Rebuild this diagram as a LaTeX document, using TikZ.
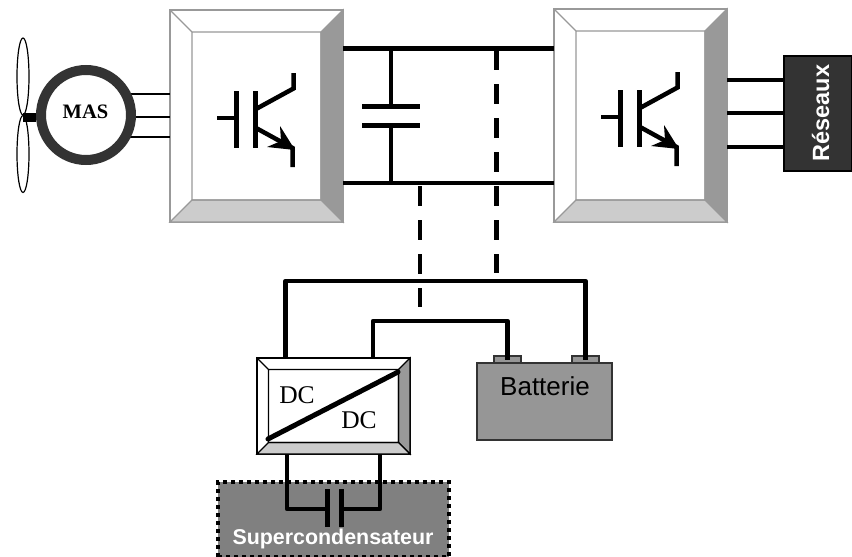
\documentclass[tikz,border=0pt]{standalone}
\usepackage{fontspec}
\setmainfont{Liberation Sans}
\newfontfamily\timesf{Liberation Serif}
\usetikzlibrary{shapes.geometric}
\definecolor{edgegray}{HTML}{999999}
\definecolor{lightface}{HTML}{CCCCCC}
\definecolor{darkface}{HTML}{333333}
\definecolor{midface}{HTML}{969696}
\definecolor{capface}{HTML}{808080}
\newcommand{\bevelbox}[7]{% name x1 y1 x2 y2 depth edgecolor
  \pgfmathsetmacro{\ixa}{#2+#6}\pgfmathsetmacro{\iya}{#3+#6}
  \pgfmathsetmacro{\ixb}{#4-#6}\pgfmathsetmacro{\iyb}{#5-#6}
  \pgfmathsetmacro{\bcx}{(#2+#4)/2}\pgfmathsetmacro{\bcy}{(#3+#5)/2}
  \pgfmathsetmacro{\bwid}{#4-#2}\pgfmathsetmacro{\bhei}{#5-#3}
  \node[rectangle,draw=#7,line width=1.2pt,fill=white,inner sep=0pt,outer sep=0pt,
        minimum width=\bwid pt,minimum height=\bhei pt] (#1) at (\bcx,\bcy) {};
  \filldraw[draw=#7,line width=1.2pt,fill=edgegray] (#4,#3)--(\ixb,\iya)--(\ixb,\iyb)--(#4,#5)--cycle;
  \filldraw[draw=#7,line width=1.2pt,fill=lightface] (#2,#5)--(\ixa,\iyb)--(\ixb,\iyb)--(#4,#5)--cycle;
  \draw[#7,line width=1.2pt] (#2,#3)--(\ixa,\iya) (\ixa,\iya) rectangle (\ixb,\iyb);
}
\newcommand{\igbt}{%
  \draw[igbtline] (217,118)--(236,118);
  \draw[igbtbar] (236,91)--(236,148);
  \draw[igbtbar] (255,91)--(255,148);
  \draw[igbtline,line join=miter] (256,109)--(293.5,88.5)--(293.5,73);
  \draw[igbtline,line join=miter] (256,128)--(292.5,148)--(292.5,167);
  \fill (280,126)--(295,150)--(267,147)--(281,141)--cycle;
}
\tikzset{
  x=1pt,y=-1pt,
  igbtline/.style={line width=4.5pt},
  igbtbar/.style={line width=5pt},
  buswire/.style={line width=4.5pt},
  thinwire/.style={line width=1.3pt},
  dcwire/.style={line width=4.5pt,line join=round},
  linkdash/.style={line width=4.5pt,dash pattern=on 20pt off 14pt},
  blade/.style={ellipse,draw,line width=1.2pt,fill=white,inner sep=0pt,outer sep=0pt,minimum width=12pt,minimum height=77pt},
  batbox/.style={draw=black!80,line width=1.2pt,fill=midface,rectangle,inner sep=0pt,outer sep=0pt},
}
\begin{document}
\begin{tikzpicture}
\useasboundingbox (0,0) rectangle (852,557);
% top converters
\bevelbox{convA}{170}{10}{343}{222}{22}{edgegray}
\bevelbox{convB}{554}{9}{727}{222}{22}{edgegray}
\igbt
\begin{scope}[shift={(384,-1)}]\igbt\end{scope}
% turbine and machine
\coordinate (mc) at (86,115);
\draw[thinwire] (mc|-0,94)--(convA.west|-0,94);
\draw[thinwire] (mc|-0,117)--(convA.west|-0,117);
\draw[thinwire] (mc|-0,137)--(convA.west|-0,137);
\node[blade] (bladeT) at (23,76.5) {};
\node[blade] (bladeB) at (23,154) {};
\node[circle,draw=darkface,line width=10pt,fill=white,inner sep=0pt,outer sep=0pt,minimum size=90pt] (motor) at (mc) {};
\node[font=\timesf\bfseries\fontsize{20.5}{24}\selectfont,inner sep=0pt] (mas) at (85.5,112) {MAS};
\fill (23,112.5) rectangle (36,121.5);
% DC bus
\coordinate (busT) at (0,48.5);
\coordinate (busB) at (0,183);
\draw[buswire] (convA.east|-busT)--(convB.west|-busT);
\draw[buswire] (convA.east|-busB)--(convB.west|-busB);
\coordinate (capT) at (391,106.5);
\coordinate (capB) at (391,125.5);
\draw[buswire] (capT|-busT)--(capT);
\draw[buswire] (capB)--(capB|-busB);
\draw[line width=4.5pt] (362,106.5)--(420,106.5);
\draw[line width=4.5pt] (362,125.5)--(420,125.5);
% reseau
\node[rectangle,draw=black,line width=1.2pt,fill=darkface,inner sep=0pt,outer sep=0pt,minimum width=68pt,minimum height=115pt] (res) at (818,113.5) {};
\node[rotate=90,text=white,font=\bfseries\fontsize{23.5}{28}\selectfont,inner sep=0pt] (restxt) at (820.5,113) {Réseaux};
\draw[buswire] (convB.east|-0,80)--(res.west|-0,80);
\draw[buswire] (convB.east|-0,113)--(res.west|-0,113);
\draw[buswire] (convB.east|-0,147)--(res.west|-0,147);
% DC-DC and battery
\node[batbox,minimum width=135pt,minimum height=77pt] (bat) at (544.5,401.5) {};
\node[font=\fontsize{26}{30}\selectfont,inner sep=0pt] (battxt) at (545,386) {Batterie};
\node[batbox,minimum width=27pt,minimum height=7pt] (tplus) at (507.5,359.5) {};
\node[batbox,minimum width=27pt,minimum height=7pt] (tminus) at (585.5,359.5) {};
\bevelbox{dcdc}{257}{358}{410}{454}{11.5}{black}
\draw[line width=5pt,line cap=round] (268,439)--(398,372);
\node[font=\timesf\fontsize{25.5}{30}\selectfont,inner sep=0pt] (dca) at (297,395) {DC};
\node[font=\timesf\fontsize{25.5}{30}\selectfont,inner sep=0pt] (dcb) at (359,420) {DC};
% links
\coordinate (topA) at (285.5,281);
\coordinate (topB) at (373,321);
\draw[dcwire] (topA|-dcdc.north)--(topA)--(tminus.center|-topA)--(tminus.center);
\draw[dcwire] (topB|-dcdc.north)--(topB)--(tplus.center|-topB)--(tplus.center);
\coordinate (dashA) at (496.5,50);
\coordinate (dashB) at (420,186);
\draw[linkdash] (dashA)--(dashA|-0,273);
\draw[linkdash] (dashB)--(dashB|-0,307);
% supercapacitor
\node[rectangle,fill=capface,draw=black,line width=4pt,dash pattern=on 4pt off 4pt,inner sep=0pt,outer sep=0pt,minimum width=231pt,minimum height=75pt] (scap) at (333.5,519) {};
\node[text=white,font=\bfseries\fontsize{21.4}{25}\selectfont,inner sep=0pt] (sctxt) at (333,539) {Supercondensateur};
\coordinate (sL) at (287,509);
\coordinate (sR) at (380,509);
\draw[dcwire] (sL|-dcdc.south)--(sL)--(327,509);
\draw[dcwire] (sR|-dcdc.south)--(sR)--(341,509);
\draw[line width=5pt] (327,489)--(327,527);
\draw[line width=5pt] (341,489)--(341,527);
\end{tikzpicture}
\end{document}
